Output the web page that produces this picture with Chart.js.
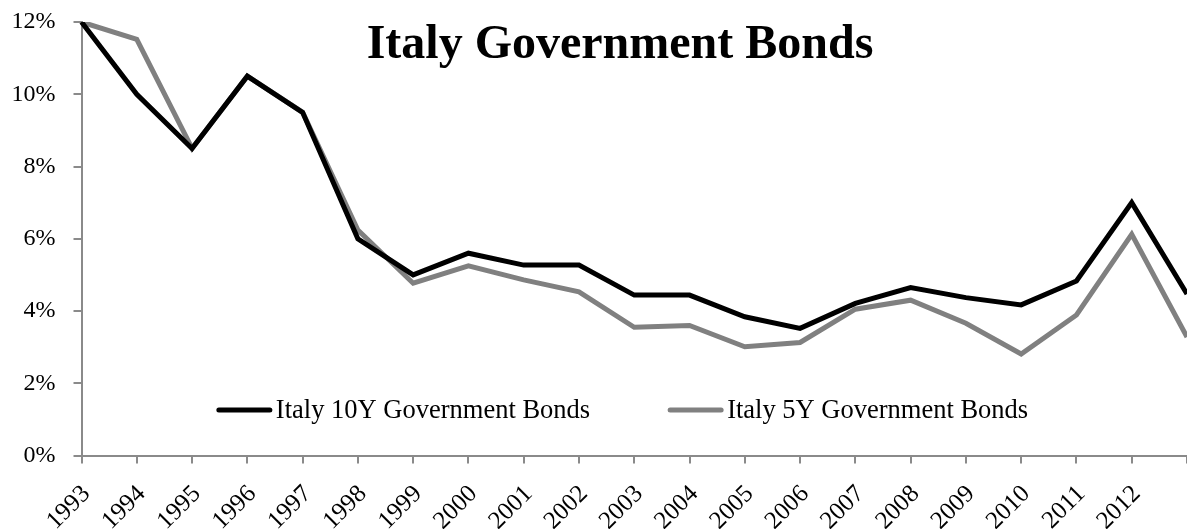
<!DOCTYPE html>
<html>
<head>
<meta charset="utf-8">
<script src="https://cdn.jsdelivr.net/npm/chart.js@4.4.1/dist/chart.umd.min.js"></script>
<style>
  html, body { margin: 0; padding: 0; background: #ffffff; }
  #wrap { position: relative; width: 1187px; height: 529px; }
</style>
</head>
<body>
<div id="wrap"><canvas id="chart"></canvas></div>
<script>
// Year labels along the x axis; the final point sits at the right edge without a label
const years = ['1993', '1994', '1995', '1996', '1997', '1998', '1999', '2000', '2001', '2002',
               '2003', '2004', '2005', '2006', '2007', '2008', '2009', '2010', '2011', '2012', ''];

// Yields in percent
const bonds10Y = [12.0, 10.0, 8.5, 10.5, 9.5, 6.0, 5.0, 5.6, 5.27, 5.27,
                  4.44, 4.44, 3.84, 3.52, 4.21, 4.65, 4.37, 4.17, 4.83, 7.0, 4.47];
const bonds5Y  = [12.0, 11.52, 8.5, 10.5, 9.5, 6.24, 4.77, 5.25, 4.86, 4.53,
                  3.55, 3.60, 3.01, 3.13, 4.05, 4.30, 3.66, 2.81, 3.89, 6.12, 3.28];

// Value axis ticks (percent)
const yTickValues = [0, 2, 4, 6, 8, 10, 12];

const seriesNames = ['Italy 10Y Government Bonds', 'Italy 5Y Government Bonds'];
const titleText = 'Italy Government Bonds';

const SERIF = "'Liberation Serif', 'Times New Roman', serif";
const AXIS_GREY = '#8a8a8a';

// Title drawn over the plot area
const titlePlugin = {
  id: 'overlayTitle',
  afterDraw(chart) {
    const ctx = chart.ctx;
    ctx.save();
    ctx.font = "bold 48px " + SERIF;
    ctx.fillStyle = '#000000';
    ctx.textAlign = 'center';
    ctx.textBaseline = 'alphabetic';
    ctx.fillText(titleText, 620, 58);
    ctx.restore();
  }
};

// Legend drawn inside the plot area, near the bottom
const insideLegend = {
  id: 'insideLegend',
  afterDraw(chart) {
    const ctx = chart.ctx;
    const sets = chart.data.datasets;
    const lineLen = 55, textGap = 4, itemGap = 78;
    ctx.save();
    ctx.font = "26.5px " + SERIF;
    const widths = sets.map(d => lineLen + textGap + ctx.measureText(d.label).width);
    const total = widths.reduce((a, b) => a + b, 0) + itemGap * (sets.length - 1);
    let x = 622.5 - total / 2;
    const y = 410;
    sets.forEach((d, i) => {
      ctx.strokeStyle = d.borderColor;
      ctx.lineWidth = 5;
      ctx.lineCap = 'round';
      ctx.beginPath();
      ctx.moveTo(x + 2, y);
      ctx.lineTo(x + lineLen - 2, y);
      ctx.stroke();
      ctx.fillStyle = '#000000';
      ctx.textAlign = 'left';
      ctx.textBaseline = 'middle';
      ctx.fillText(d.label, x + lineLen + textGap, y + 1);
      x += widths[i] + itemGap;
    });
    ctx.restore();
  }
};

function build() {
  new Chart(document.getElementById('chart'), {
    type: 'line',
    data: {
      labels: years,
      datasets: [
        {
          label: seriesNames[0],
          data: bonds10Y,
          borderColor: '#000000',
          backgroundColor: '#000000',
          borderWidth: 5,
          pointRadius: 0,
          tension: 0,
          borderJoinStyle: 'miter',
          borderCapStyle: 'butt',
          fill: false
        },
        {
          label: seriesNames[1],
          data: bonds5Y,
          borderColor: '#808080',
          backgroundColor: '#808080',
          borderWidth: 5,
          pointRadius: 0,
          tension: 0,
          borderJoinStyle: 'miter',
          borderCapStyle: 'butt',
          fill: false
        }
      ]
    },
    options: {
      responsive: true,
      maintainAspectRatio: false,
      animation: false,
      layout: { padding: { top: 22, right: 0, bottom: 0, left: 0 } },
      plugins: {
        legend: { display: false },
        title: { display: false },
        tooltip: { enabled: false }
      },
      scales: {
        x: {
          type: 'category',
          offset: false,
          border: { display: true, color: AXIS_GREY, width: 2 },
          grid: { display: true, drawOnChartArea: false, drawTicks: true, tickLength: 8, color: AXIS_GREY, lineWidth: 2 },
          ticks: {
            autoSkip: false,
            maxRotation: 45,
            minRotation: 45,
            padding: 16,
            labelOffset: 5,
            color: '#000000',
            font: { family: SERIF, size: 25 }
          },
          afterFit(scale) {
            scale.height = 73.5;
            scale.paddingLeft = 0;
            scale.paddingRight = 0;
          }
        },
        y: {
          min: 0,
          max: 12,
          border: { display: true, color: AXIS_GREY, width: 2 },
          grid: { display: true, drawOnChartArea: false, drawTicks: true, tickLength: 8, color: AXIS_GREY, lineWidth: 2 },
          afterBuildTicks(scale) {
            scale.ticks = yTickValues.map(v => ({ value: v }));
          },
          ticks: {
            padding: 18,
            color: '#000000',
            font: { family: SERIF, size: 24 },
            callback: v => v + '%'
          },
          afterFit(scale) {
            scale.width = 81.5;
            scale.paddingTop = 0;
            scale.paddingBottom = 0;
          }
        }
      }
    },
    plugins: [titlePlugin, insideLegend]
  });
}

if (document.fonts && document.fonts.load) {
  Promise.all([
    document.fonts.load("24px 'Liberation Serif'"),
    document.fonts.load("bold 48px 'Liberation Serif'")
  ]).then(build, build);
} else {
  build();
}
</script>
</body>
</html>
